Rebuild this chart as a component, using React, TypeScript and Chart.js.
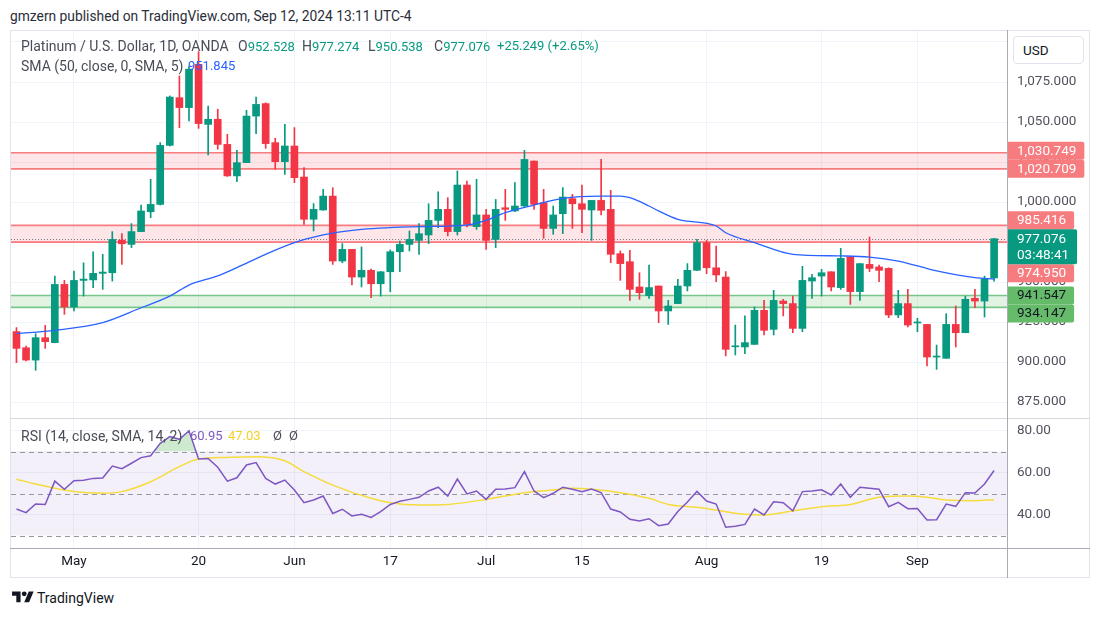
import React, { useEffect, useRef } from 'react';
import { Chart, registerables } from 'chart.js';

Chart.register(...registerables);

const FONT = "Roboto, 'Noto Sans', 'DejaVu Sans', sans-serif";

// ---------- data ----------
// first candle is 6 trading days before May 1 (index 0)
const FIRST_INDEX = -6;

const opens = [
  919.0, 908.9, 901.2, 915.2, 912.1, 948.5,
  934.4, 951.0, 951.3, 955.4, 955.8, 976.2, 973.5, 981.5, 993.9, 998.5,
  1035.4, 1065.2, 1059.0, 1086.0, 1048.5, 1051.7, 1036.0, 1016.3, 1024.6, 1053.7,
  1061.5, 1037.1, 1025.2, 1035.0, 1015.6, 989.2, 995.0, 1003.7, 963.1, 970.4,
  953.1, 957.3, 948.9, 956.4, 968.9, 973.5, 976.0, 979.4, 988.5, 995.4,
  981.5, 1010.6, 984.6, 991.9, 976.6, 996.4, 994.4, 997.5, 1025.6, 999.6,
  983.5, 992.7, 1002.1, 998.9, 995.0, 1001.0, 995.4, 967.7, 962.7, 946.9,
  941.5, 947.5, 931.9, 936.5, 947.5, 957.3, 974.6, 958.9, 953.1, 909.5,
  909.4, 911.0, 932.3, 920.4, 938.1, 936.5, 921.0, 950.6, 953.7, 956.4,
  946.5, 965.6, 944.0, 961.0, 959.4, 958.5, 929.4, 936.5, 924.4, 923.5,
  903.1, 902.3, 923.5, 918.3, 939.8, 938.1, 952.528,
];
const highs = [
  921.5, 910.0, 917.7, 922.9, 953.7, 951.0,
  956.9, 962.0, 968.9, 967.3, 981.5, 980.2, 986.5, 998.1, 1014.2, 1037.1,
  1066.3, 1078.8, 1085.0, 1094.0, 1060.0, 1058.0, 1042.3, 1032.3, 1057.3, 1065.6,
  1062.0, 1039.8, 1048.5, 1046.5, 1021.5, 999.0, 1007.9, 1008.9, 974.0, 970.4,
  971.9, 958.0, 956.5, 970.0, 975.6, 981.9, 986.5, 998.9, 1006.4, 1002.7,
  1019.4, 1013.1, 1014.2, 995.4, 1001.6, 1007.9, 1012.1, 1032.3, 1025.6, 1007.9,
  997.5, 1009.0, 1004.8, 1010.6, 1001.0, 1026.6, 1007.3, 969.4, 969.8, 955.8,
  960.6, 947.5, 938.5, 951.7, 961.5, 976.7, 976.0, 972.5, 956.5, 923.1,
  928.8, 934.4, 938.5, 944.8, 939.2, 941.2, 959.8, 954.8, 957.9, 956.4,
  971.0, 965.6, 961.5, 978.1, 960.6, 958.9, 944.8, 945.4, 927.3, 923.5,
  910.6, 930.2, 935.0, 941.2, 945.4, 953.7, 977.274,
];
const lows = [
  899.6, 900.6, 894.8, 908.5, 912.0, 929.8,
  931.9, 941.2, 946.5, 945.4, 950.6, 961.0, 971.5, 981.5, 990.2, 998.1,
  1035.0, 1046.4, 1050.6, 1046.0, 1029.4, 1033.0, 1016.0, 1012.7, 1024.6, 1042.7,
  1033.5, 1020.4, 1017.3, 1012.1, 986.0, 981.9, 994.8, 961.0, 962.0, 948.1,
  946.9, 940.2, 941.2, 943.9, 956.4, 969.4, 967.3, 974.0, 983.9, 978.8,
  979.4, 984.4, 982.9, 970.4, 971.5, 988.5, 994.0, 997.0, 995.4, 977.3,
  979.8, 980.2, 983.5, 980.8, 976.0, 991.9, 962.1, 951.0, 938.5, 939.2,
  939.8, 924.6, 923.5, 936.5, 944.4, 957.3, 955.2, 950.2, 903.8, 904.4,
  905.2, 911.0, 916.9, 916.9, 928.8, 918.3, 918.9, 939.8, 941.2, 944.4,
  945.4, 936.0, 938.5, 956.5, 950.2, 927.7, 927.7, 921.9, 918.9, 897.5,
  895.4, 902.3, 909.4, 918.3, 933.9, 928.1, 950.538,
];
const closes = [
  908.5, 901.2, 915.2, 912.7, 948.5, 934.4,
  951.0, 951.8, 955.4, 956.2, 976.6, 973.9, 981.5, 994.4, 998.5, 1035.4,
  1065.6, 1059.0, 1083.0, 1049.0, 1051.7, 1036.0, 1016.3, 1024.6, 1053.7, 1061.0,
  1036.5, 1025.2, 1035.0, 1015.2, 989.2, 995.4, 1003.7, 963.1, 970.4, 953.1,
  957.3, 948.9, 956.4, 968.9, 973.5, 976.6, 980.2, 988.5, 995.4, 981.5,
  1010.6, 986.0, 991.9, 976.0, 995.4, 995.4, 997.5, 1026.6, 998.5, 983.5,
  991.9, 1003.1, 998.9, 995.4, 1001.0, 994.8, 967.3, 961.5, 945.4, 943.3,
  946.5, 931.9, 935.0, 947.5, 957.3, 974.6, 958.9, 954.4, 907.9, 910.0,
  912.1, 932.3, 919.8, 938.5, 936.5, 921.0, 951.0, 952.7, 955.8, 946.9,
  964.8, 944.0, 961.5, 958.5, 957.3, 929.4, 936.5, 923.1, 925.0, 903.1,
  903.5, 923.5, 918.3, 939.2, 938.1, 951.8, 977.076,
];

// SMA(50) at these candle indices
const smaX = [-6, -2, 3, 7, 10, 12, 15, 17, 20, 23, 26, 28, 30, 36, 41, 43, 45, 48, 51, 55, 57, 58, 60, 61, 63, 67, 68, 71, 75, 80, 83, 86, 90, 94, 96];
const smaY = [917.7, 919.8, 924.6, 933.9, 941.2, 948.1, 953.8, 959.0, 967.3, 974.6, 979.4, 981.5, 982.9, 984.6, 985.6, 988.5, 993.3, 998.1, 1002.3, 1003.7, 1003.7, 1002.7, 997.5, 994.4, 989.2, 985.0, 980.8, 974.6, 967.3, 966.3, 965.6, 963.1, 956.9, 952.7, 951.845];

// RSI(14), one value per candle
const rsiValues = [
  42.6, 40.9, 45.0, 44.8, 55.9, 52.0,
  56.1, 56.3, 57.2, 57.4, 63.1, 61.8, 64.4, 67.1, 68.0, 73.9,
  77.1, 75.8, 79.9, 66.4, 66.7, 62.5, 55.9, 57.5, 63.6, 64.7,
  57.2, 54.5, 56.4, 51.7, 45.6, 46.9, 48.8, 40.5, 42.5, 39.3,
  40.1, 38.6, 41.4, 44.8, 46.3, 47.2, 48.2, 51.2, 53.0, 48.8,
  56.9, 49.8, 51.2, 47.2, 52.0, 52.1, 52.8, 60.4, 51.2, 48.0,
  50.1, 53.0, 52.0, 50.9, 52.1, 50.4, 42.6, 41.2, 37.7, 36.9,
  38.0, 34.7, 35.5, 41.4, 46.0, 51.0, 46.4, 45.0, 33.9, 34.4,
  35.3, 42.6, 39.8, 46.1, 45.6, 41.8, 50.9, 51.2, 51.8, 49.3,
  54.5, 48.2, 53.0, 52.5, 52.0, 43.7, 45.8, 42.8, 42.9, 37.4,
  37.5, 45.0, 43.9, 50.4, 50.2, 54.5, 60.95,
];
// RSI-based SMA(14) read at these indices
const rsiMaX = [-6, -4, 0, 3, 5, 8, 11, 13, 16, 19, 22, 24, 27, 31, 33, 36, 39, 43, 47, 50, 52, 54, 57, 60, 62, 65, 67, 70, 72, 75, 78, 81, 84, 87, 89, 91, 94, 96];
const rsiMaY = [56.8, 54.5, 50.9, 50.1, 50.9, 55.6, 62.8, 66.4, 67.2, 67.5, 65.6, 60.4, 54.0, 47.7, 45.6, 44.5, 44.8, 47.2, 50.4, 51.7, 52.5, 52.0, 50.4, 47.7, 44.8, 43.4, 42.1, 40.1, 39.8, 41.7, 43.7, 44.8, 48.2, 48.8, 48.2, 46.9, 46.6, 47.03];

const xTickIdx = [0, 13, 23, 33, 43, 53, 66, 78, 88];
const xTickLabels = ['May', '20', 'Jun', '17', 'Jul', '15', 'Aug', '19', 'Sep'];
const priceTicks = [875, 900, 925, 950, 975, 1000, 1025, 1050, 1075, 1100];
const rsiTicks = [40, 60, 80];
const rsiLevels = [70, 50, 30];

const resistanceZones = [[1020.709, 1030.749], [974.95, 985.416]];
const supportZones = [[934.147, 941.547]];
const resistanceLevels = [1030.749, 1020.709, 985.416, 974.95];
const supportLevels = [941.547, 934.147];
const lastPrice = 977.076;
const countdown = '03:48:41';

// ---------- view settings ----------
const X_MIN = -6.57;
const X_MAX = 97.45;
const UP = '#089981';
const DOWN = '#f23645';
const GRID = '#f0f3fa';
const AXIS_TEXT = '#50535e';
const RES_COLOR = '#f77c80';
const SUP_COLOR = '#66bb6a';
const AXIS_FONT = 13.5;

const fmtPrice = (v: number) =>
  v.toLocaleString('en-US', { minimumFractionDigits: 3, maximumFractionDigits: 3 });

const idx = opens.map((_, k) => k + FIRST_INDEX);
const candleColors = opens.map((o, k) => (closes[k] >= o ? UP : DOWN));

function roundRightBox(ctx: CanvasRenderingContext2D, x: number, y: number, w: number, h: number, r: number) {
  ctx.beginPath();
  ctx.moveTo(x, y);
  ctx.lineTo(x + w - r, y);
  ctx.quadraticCurveTo(x + w, y, x + w, y + r);
  ctx.lineTo(x + w, y + h - r);
  ctx.quadraticCurveTo(x + w, y + h, x + w - r, y + h);
  ctx.lineTo(x, y + h);
  ctx.closePath();
  ctx.fill();
}

const mainPlugin = {
  id: 'mainDecor',
  beforeDatasetsDraw(chart: any) {
    const { ctx, chartArea: a, scales } = chart;
    const y = scales.y;
    ctx.save();
    ctx.beginPath();
    ctx.rect(a.left, a.top, a.right - a.left, a.bottom - a.top);
    ctx.clip();
    const zone = (lo: number, hi: number, fill: string, line: string) => {
      const yt = y.getPixelForValue(hi);
      const yb = y.getPixelForValue(lo);
      ctx.fillStyle = fill;
      ctx.fillRect(a.left, yt, a.right - a.left, yb - yt);
      ctx.strokeStyle = line;
      ctx.lineWidth = 1.6;
      ctx.beginPath();
      ctx.moveTo(a.left, yt);
      ctx.lineTo(a.right, yt);
      ctx.moveTo(a.left, yb);
      ctx.lineTo(a.right, yb);
      ctx.stroke();
    };
    resistanceZones.forEach(([lo, hi]) => zone(lo, hi, 'rgba(247,82,95,0.15)', RES_COLOR));
    supportZones.forEach(([lo, hi]) => zone(lo, hi, 'rgba(76,175,80,0.16)', '#79c68a'));
    const py = Math.round(y.getPixelForValue(lastPrice)) + 0.5;
    ctx.setLineDash([1, 2]);
    ctx.strokeStyle = '#787b86';
    ctx.lineWidth = 1;
    ctx.beginPath();
    ctx.moveTo(a.left, py);
    ctx.lineTo(a.right, py);
    ctx.stroke();
    ctx.restore();
  },
  afterDraw(chart: any) {
    const { ctx, chartArea: a, scales } = chart;
    const y = scales.y;
    const H = 18;
    const x0 = a.right;
    ctx.save();
    ctx.font = `${AXIS_FONT}px ${FONT}`;
    ctx.textBaseline = 'middle';
    ctx.textAlign = 'left';
    const drawLabel = (c: number, text: string, bg: string, fg: string) => {
      const w = ctx.measureText(text).width + 17;
      ctx.fillStyle = bg;
      roundRightBox(ctx, x0, c - H / 2, w, H, 2);
      ctx.fillStyle = fg;
      ctx.fillText(text, x0 + 9, c + 0.5);
    };
    const anchor = y.getPixelForValue(lastPrice);
    const aTop = anchor - 9.5;
    const aBot = aTop + 35;
    const labels = [
      ...resistanceLevels.map((v) => ({ v, bg: RES_COLOR, fg: '#ffffff' })),
      ...supportLevels.map((v) => ({ v, bg: SUP_COLOR, fg: '#131722' })),
    ];
    const above = labels.filter((l) => l.v > lastPrice).sort((p, q) => p.v - q.v);
    let limit = aTop;
    for (const l of above) {
      let c = y.getPixelForValue(l.v);
      if (c + H / 2 > limit) c = limit - H / 2;
      drawLabel(c, fmtPrice(l.v), l.bg, l.fg);
      limit = c - H / 2;
    }
    const below = labels.filter((l) => l.v < lastPrice).sort((p, q) => q.v - p.v);
    limit = aBot;
    for (const l of below) {
      let c = y.getPixelForValue(l.v);
      if (c - H / 2 < limit) c = limit + H / 2;
      drawLabel(c, fmtPrice(l.v), l.bg, l.fg);
      limit = c + H / 2;
    }
    const t1 = fmtPrice(lastPrice);
    const w = Math.max(ctx.measureText(t1).width, ctx.measureText(countdown).width) + 17;
    ctx.fillStyle = UP;
    roundRightBox(ctx, x0, aTop, w, 35, 2);
    ctx.fillStyle = '#ffffff';
    ctx.fillText(t1, x0 + 9, aTop + 10);
    ctx.fillText(countdown, x0 + 9, aTop + 26.5);
    ctx.restore();
  },
};

const rsiPlugin = {
  id: 'rsiDecor',
  beforeDatasetsDraw(chart: any) {
    const { ctx, chartArea: a, scales } = chart;
    const y = scales.y;
    const t = y.getPixelForValue(70);
    const b = y.getPixelForValue(30);
    ctx.save();
    ctx.fillStyle = 'rgba(126,87,194,0.09)';
    ctx.fillRect(a.left, t, a.right - a.left, b - t);
    ctx.setLineDash([5, 4]);
    ctx.strokeStyle = '#9598a1';
    ctx.lineWidth = 1;
    rsiLevels.forEach((v) => {
      const yy = Math.round(y.getPixelForValue(v)) + 0.5;
      ctx.beginPath();
      ctx.moveTo(a.left, yy);
      ctx.lineTo(a.right, yy);
      ctx.stroke();
    });
    ctx.restore();
  },
};

const xScaleBase = (showLabels: boolean) => ({
  type: 'linear',
  min: X_MIN,
  max: X_MAX,
  offset: false,
  grid: { color: GRID, offset: false, drawTicks: false },
  border: { display: false },
  afterBuildTicks: (s: any) => {
    s.ticks = xTickIdx.map((v) => ({ value: v }));
  },
  ticks: {
    display: showLabels,
    autoSkip: false,
    maxRotation: 0,
    padding: 6,
    color: '#131722',
    font: { size: AXIS_FONT, family: FONT },
    callback: (v: any) => {
      const k = xTickIdx.indexOf(Number(v));
      return k >= 0 ? xTickLabels[k] : '';
    },
  },
  afterFit: (s: any) => {
    s.height = showLabels ? 30 : 0;
    s.paddingLeft = 0;
    s.paddingRight = 0;
  },
});

export default function App() {
  const mainRef = useRef<HTMLCanvasElement>(null);
  const rsiRef = useRef<HTMLCanvasElement>(null);

  useEffect(() => {
    Chart.defaults.font.family = FONT;
    const main = new Chart(mainRef.current as HTMLCanvasElement, {
      type: 'bar',
      data: {
        datasets: [
          {
            type: 'line',
            label: 'SMA 50',
            data: smaX.map((x, k) => ({ x, y: smaY[k] })),
            borderColor: '#2962ff',
            borderWidth: 1.3,
            pointRadius: 0,
            cubicInterpolationMode: 'monotone',
            order: 0,
          } as any,
          {
            type: 'bar',
            label: 'body',
            data: idx.map((x, k) => ({ x, y: [opens[k], closes[k]] })),
            backgroundColor: candleColors,
            barThickness: 7,
            minBarLength: 1,
            grouped: false,
            order: 1,
          } as any,
          {
            type: 'bar',
            label: 'wick',
            data: idx.map((x, k) => ({ x, y: [lows[k], highs[k]] })),
            backgroundColor: candleColors,
            barThickness: 1,
            grouped: false,
            order: 2,
          } as any,
        ],
      },
      options: {
        animation: false,
        responsive: false,
        maintainAspectRatio: false,
        layout: { padding: { left: 1, top: 1, right: 0, bottom: 0 } },
        plugins: { legend: { display: false }, tooltip: { enabled: false } },
        scales: {
          x: xScaleBase(false) as any,
          y: {
            type: 'linear',
            position: 'right',
            min: 865,
            max: 1106.875,
            beginAtZero: false,
            grid: { color: GRID, drawTicks: false },
            border: { display: false },
            afterBuildTicks: (s: any) => {
              s.ticks = priceTicks.map((v) => ({ value: v }));
            },
            ticks: {
              padding: 9,
              color: AXIS_TEXT,
              font: { size: AXIS_FONT, family: FONT },
              callback: (v: any) => fmtPrice(Number(v)),
            },
            afterFit: (s: any) => {
              s.width = 82;
              s.paddingTop = 0;
              s.paddingBottom = 0;
            },
          } as any,
        },
      },
      plugins: [mainPlugin],
    } as any);

    const rsi = new Chart(rsiRef.current as HTMLCanvasElement, {
      type: 'line',
      data: {
        datasets: [
          {
            label: 'RSI',
            data: idx.map((x, k) => ({ x, y: rsiValues[k] })),
            borderColor: '#7e57c2',
            borderWidth: 1.5,
            pointRadius: 0,
            tension: 0,
            fill: { target: { value: 70 }, above: 'rgba(76,175,80,0.28)', below: 'rgba(0,0,0,0)' },
            order: 0,
          },
          {
            label: 'RSI MA',
            data: rsiMaX.map((x, k) => ({ x, y: rsiMaY[k] })),
            borderColor: '#f5dc3c',
            borderWidth: 1.5,
            pointRadius: 0,
            cubicInterpolationMode: 'monotone',
            fill: false,
            order: 1,
          },
        ],
      },
      options: {
        animation: false,
        responsive: false,
        maintainAspectRatio: false,
        layout: { padding: { left: 1, top: 1, right: 0, bottom: 0 } },
        plugins: { legend: { display: false }, tooltip: { enabled: false } },
        scales: {
          x: xScaleBase(true) as any,
          y: {
            type: 'linear',
            position: 'right',
            min: 24.05,
            max: 85.48,
            grid: { color: GRID, drawTicks: false },
            border: { display: false },
            afterBuildTicks: (s: any) => {
              s.ticks = rsiTicks.map((v) => ({ value: v }));
            },
            ticks: {
              padding: 9,
              color: AXIS_TEXT,
              font: { size: AXIS_FONT, family: FONT },
              callback: (v: any) => Number(v).toFixed(2),
            },
            afterFit: (s: any) => {
              s.width = 82;
              s.paddingTop = 0;
              s.paddingBottom = 0;
            },
          } as any,
        },
      },
      plugins: [rsiPlugin],
    } as any);

    return () => {
      main.destroy();
      rsi.destroy();
    };
  }, []);

  const legendText = '#4a4d57';
  const abs = (left: number, top: number, extra: React.CSSProperties = {}): React.CSSProperties => ({
    position: 'absolute',
    left,
    top,
    fontSize: 13,
    lineHeight: '16px',
    whiteSpace: 'nowrap',
    color: legendText,
    ...extra,
  });
  const words = { fontSize: 14 };

  return (
    <div
      style={{
        position: 'fixed',
        left: 0,
        top: 0,
        width: 1100,
        height: 618,
        background: '#ffffff',
        fontFamily: FONT,
        overflow: 'hidden',
      }}
    >
      <div style={abs(10, 8, { color: '#2a2e39', fontSize: 13.8 })}>
        gmzern published on TradingView.com, Sep 12, 2024 13:11 UTC-4
      </div>

      <canvas
        ref={mainRef}
        width={1080}
        height={388}
        style={{ position: 'absolute', left: 10, top: 30, width: 1080, height: 388 }}
      />
      <canvas
        ref={rsiRef}
        width={1080}
        height={160}
        style={{ position: 'absolute', left: 10, top: 418, width: 1080, height: 160 }}
      />

      {/* frame and separators */}
      <div
        style={{
          position: 'absolute',
          left: 10,
          top: 30,
          width: 1080,
          height: 548,
          border: '1px solid #e0e3eb',
          boxSizing: 'border-box',
        }}
      />
      <div style={{ position: 'absolute', left: 10, top: 418, width: 1080, height: 1, background: '#d6d9e0' }} />
      <div style={{ position: 'absolute', left: 10, top: 548, width: 1080, height: 1, background: '#a9acb5' }} />
      <div style={{ position: 'absolute', left: 1007, top: 30, width: 1, height: 548, background: '#a9acb5' }} />

      {/* USD button */}
      <div
        style={{
          position: 'absolute',
          left: 1013,
          top: 36,
          width: 71,
          height: 28,
          border: '1px solid #e0e3eb',
          borderRadius: 4,
          boxSizing: 'border-box',
          background: '#ffffff',
          fontSize: 13.5,
          lineHeight: '26px',
          paddingLeft: 9,
          color: '#131722',
        }}
      >
        USD
      </div>

      {/* legend */}
      <div style={abs(21, 38, words)}>Platinum / U.S. Dollar, 1D, OANDA</div>
      <div style={abs(238, 38)}>
        <span style={words}>O</span>
        <span style={{ color: UP }}>952.528</span>
      </div>
      <div style={abs(302, 38)}>
        <span style={words}>H</span>
        <span style={{ color: UP }}>977.274</span>
      </div>
      <div style={abs(368, 38)}>
        <span style={words}>L</span>
        <span style={{ color: UP }}>950.538</span>
      </div>
      <div style={abs(434, 38)}>
        <span style={words}>C</span>
        <span style={{ color: UP }}>977.076</span>
      </div>
      <div style={abs(497, 38, { color: UP })}>+25.249 (+2.65%)</div>

      <div style={abs(21, 58, words)}>SMA (50, close, 0, SMA, 5)</div>
      <div style={abs(188, 58, { color: '#2962ff' })}>951.845</div>

      <div style={abs(21, 428, words)}>RSI (14, close, SMA, 14, 2)</div>
      <div style={abs(190, 428, { color: '#7e57c2' })}>60.95</div>
      <div style={abs(228, 428, { color: '#f0d22a' })}>47.03</div>
      <div style={abs(273, 428)}>Ø</div>
      <div style={abs(289, 428)}>Ø</div>

      {/* footer */}
      <svg
        width={22}
        height={17}
        viewBox="0 0 36 28"
        style={{ position: 'absolute', left: 12, top: 589 }}
      >
        <path d="M14 22H7V11H0V4h14v18zM28 22h-8l7.5-18h8L28 22z" fill="#131722" />
        <circle cx="20" cy="8" r="4" fill="#131722" />
      </svg>
      <div style={abs(37, 590, { fontSize: 14, color: '#131722' })}>TradingView</div>
    </div>
  );
}
